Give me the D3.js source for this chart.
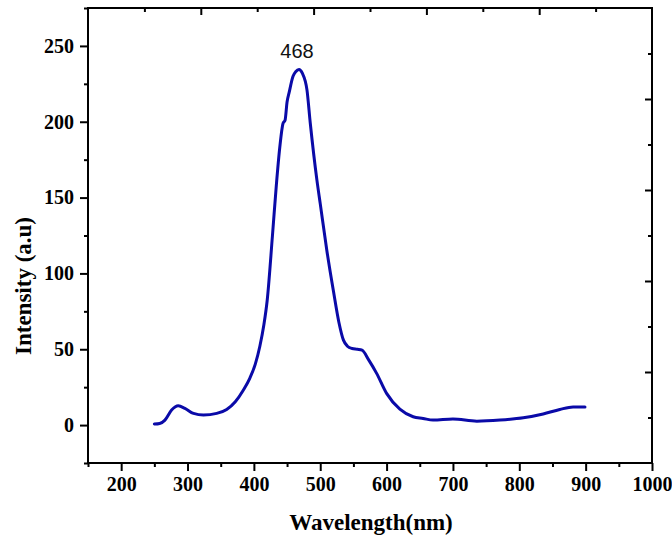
<!DOCTYPE html>
<html>
<head>
<meta charset="utf-8">
<script src="https://cdn.jsdelivr.net/npm/d3@7"></script>
<style>
    body { margin: 0; background: #fff; }
    .tick-label { font-family: "Liberation Serif", "Times New Roman", serif; font-weight: bold; font-size: 20px; }
    .axis-title { font-family: "Liberation Serif", "Times New Roman", serif; font-weight: bold; font-size: 23px; }
</style>
</head>
<body>
<div class="vis"></div>
<script>
const width = 672;
const height = 537;
const margin = { left: 88, right: 20, top: 8, bottom: 74 };

// Spectrum
const wavelength = [250, 258, 266, 276, 286, 296, 309, 324, 344, 359, 372, 384, 394, 402, 409, 415, 420, 428, 434, 439, 444, 447, 450, 453, 459, 463, 468, 473, 480, 485, 495, 500, 510, 520, 528, 535, 541, 548, 556, 563, 573, 585, 600, 620, 640, 655, 670, 700, 736, 771, 806, 836, 861, 881, 899];
const intensity = [0.7, 1.1, 3.3, 9.9, 12.7, 11, 7.7, 6.6, 7.7, 10.3, 15.4, 23, 31, 40, 52, 66, 82, 125, 159, 183, 199, 201, 213, 219, 230, 233, 234.5, 232, 221, 199, 161.5, 146, 115, 88, 68, 56, 52, 50.5, 50, 49.4, 43, 34.1, 20.9, 10.5, 5.5, 4.4, 3.3, 4, 2.6, 3.3, 4.8, 7.3, 10.3, 12, 12];

const xTicks = [200, 300, 400, 500, 600, 700, 800, 900, 1000];
const xMinorTicks = [150, 250, 350, 450, 550, 650, 750, 850, 950];
const yTicks = [0, 50, 100, 150, 200, 250];
const yMinorTicks = [-25, 25, 75, 125, 175, 225, 275];
// top and right frame ticks are evenly spaced, unlabelled
const frameTicks = [200, 400, 600, 800];
const frameMinorTicks = [100, 300, 500, 700, 900];

const peak = { wavelength: 468, intensity: 234.5, label: "468" };

const svg = d3.select(".vis").append("svg")
    .attr("width", width)
    .attr("height", height);

const xScale = d3.scaleLinear()
    .domain([150, 1000])
    .range([margin.left, width - margin.right]);

const yScale = d3.scaleLinear()
    .domain([-25, 275])
    .range([height - margin.bottom, margin.top]);

const xFrame = d3.scaleLinear().domain([0, 1000]).range(xScale.range());
const yFrame = d3.scaleLinear().domain([0, 1000]).range(yScale.range());

const x0 = xScale.range()[0], x1 = xScale.range()[1];
const y0 = yScale.range()[0], y1 = yScale.range()[1];

// Bottom axis
const xAxis = svg.append("g").attr("transform", `translate(0, ${y0})`);
xAxis.call(d3.axisBottom(xScale).tickValues(xTicks).tickSize(8).tickPadding(6).tickFormat(d3.format("d")));
xAxis.call(g => g.append("g").call(d3.axisBottom(xScale).tickValues(xMinorTicks).tickSize(4).tickFormat("")));

// Left axis
const yAxis = svg.append("g").attr("transform", `translate(${x0}, 0)`);
yAxis.call(d3.axisLeft(yScale).tickValues(yTicks).tickSize(8).tickPadding(6).tickFormat(d3.format("d")));
yAxis.call(g => g.append("g").call(d3.axisLeft(yScale).tickValues(yMinorTicks).tickSize(4).tickFormat("")));

// Top frame ticks (inward)
const topAxis = svg.append("g").attr("transform", `translate(0, ${y1})`);
topAxis.call(d3.axisBottom(xFrame).tickValues(frameTicks).tickSize(7).tickFormat(""));
topAxis.call(g => g.append("g").call(d3.axisBottom(xFrame).tickValues(frameMinorTicks).tickSize(4).tickFormat("")));

// Right frame ticks (inward)
const rightAxis = svg.append("g").attr("transform", `translate(${x1}, 0)`);
rightAxis.call(d3.axisLeft(yFrame).tickValues(frameTicks).tickSize(7).tickFormat(""));
rightAxis.call(g => g.append("g").call(d3.axisLeft(yFrame).tickValues(frameMinorTicks).tickSize(4).tickFormat("")));

svg.selectAll(".domain").remove();
svg.selectAll(".tick line").attr("stroke", "#000").attr("stroke-width", 2);
svg.selectAll(".tick text")
    .attr("class", "tick-label")
    .attr("fill", "#000");
svg.selectAll("g").attr("font-size", null).attr("font-family", null);

// Frame
svg.append("rect")
    .attr("x", x0)
    .attr("y", y1)
    .attr("width", x1 - x0)
    .attr("height", y0 - y1)
    .attr("fill", "none")
    .attr("stroke", "#000")
    .attr("stroke-width", 2);

// Spectrum line
const dataset = wavelength.map((w, i) => ({ x: w, y: intensity[i] }));

const line = d3.line()
    .x(d => xScale(d.x))
    .y(d => yScale(d.y))
    .curve(d3.curveMonotoneX);

svg.append("path")
    .datum(dataset)
    .attr("d", line)
    .attr("fill", "none")
    .attr("stroke", "#0a0aa8")
    .attr("stroke-width", 3)
    .attr("stroke-linejoin", "round")
    .attr("stroke-linecap", "round");

// Peak label
svg.append("text")
    .attr("x", xScale(peak.wavelength) - 2)
    .attr("y", yScale(peak.intensity) - 11)
    .attr("text-anchor", "middle")
    .style("font-family", "'Liberation Sans', Arial, sans-serif")
    .style("font-size", "20px")
    .attr("fill", "#111")
    .text(peak.label);

// Axis titles
svg.append("text")
    .attr("class", "axis-title")
    .attr("x", 371)
    .attr("y", 530)
    .attr("text-anchor", "middle")
    .text("Wavelength(nm)");

svg.append("text")
    .attr("class", "axis-title")
    .attr("transform", "translate(31, 286) rotate(-90)")
    .attr("text-anchor", "middle")
    .text("Intensity (a.u)");
</script>
</body>
</html>
